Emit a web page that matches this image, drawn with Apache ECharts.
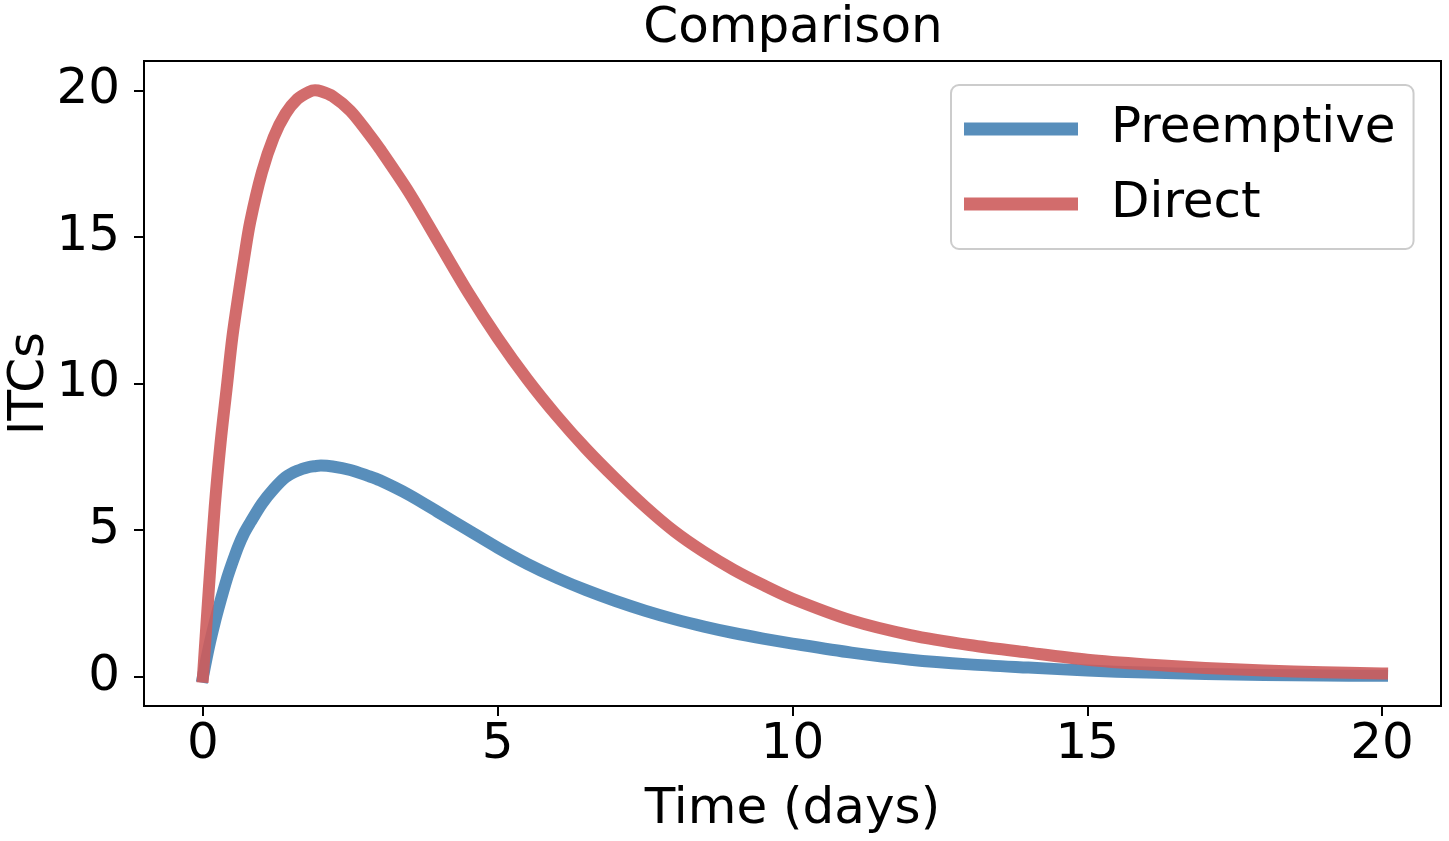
<!DOCTYPE html>
<html>
<head>
<meta charset="utf-8">
<script src="https://cdn.jsdelivr.net/npm/echarts@6/dist/echarts.min.js"></script>
<style>
  html, body { margin: 0; padding: 0; background: #fff; }
  #chart { width: 1449px; height: 841px; }
</style>
</head>
<body>
<div id="chart"></div>
<script>
// Time points (days)
const times = [0, 0.1, 0.2, 0.3, 0.4, 0.5, 0.6, 0.7, 0.8, 1.0, 1.2, 1.4, 1.6, 1.8, 1.9, 2.0, 2.2, 2.5, 2.8, 3.0, 3.5, 4.0, 4.5, 5.0, 5.5, 6.0, 6.5, 7.0, 7.5, 8.0, 8.5, 9.0, 9.5, 10, 11, 12, 13, 14, 15, 16, 17, 18, 19, 20];
// Preemptive ITCs
const preemptive = [0, 1.0, 1.85, 2.6, 3.3, 3.9, 4.45, 4.9, 5.25, 5.9, 6.4, 6.8, 7.02, 7.15, 7.18, 7.2, 7.17, 7.05, 6.85, 6.7, 6.2, 5.6, 5.0, 4.4, 3.85, 3.37, 2.95, 2.58, 2.25, 1.96, 1.71, 1.49, 1.30, 1.13, 0.82, 0.58, 0.42, 0.31, 0.21, 0.14, 0.09, 0.06, 0.04, 0.03];
// Direct ITCs
const direct = [0, 3.0, 5.8, 8.0, 9.8, 11.6, 13.0, 14.3, 15.5, 17.2, 18.4, 19.2, 19.7, 19.95, 20.0, 19.97, 19.8, 19.3, 18.55, 18.0, 16.5, 14.8, 13.1, 11.55, 10.15, 8.9, 7.77, 6.75, 5.8, 4.95, 4.25, 3.65, 3.13, 2.66, 1.92, 1.42, 1.08, 0.82, 0.58, 0.42, 0.30, 0.21, 0.15, 0.11];
// Tick labels
const xTicks = [0, 5, 10, 15, 20];
const yTicks = [0, 5, 10, 15, 20];

const FONT = 'DejaVu Sans';
const chart = echarts.init(document.getElementById('chart'), null, { renderer: 'canvas' });

const toPairs = (ys) => times.map((t, i) => [t, ys[i]]);

chart.setOption({
  backgroundColor: '#fff',
  animation: false,
  title: {
    text: 'Comparison',
    left: 788,
    textAlign: 'center',
    top: -1,
    textStyle: { fontFamily: FONT, fontSize: 50, fontWeight: 'normal', color: '#000' }
  },
  grid: {
    left: 144, top: 61, right: 8, bottom: 135,
    outerBoundsMode: 'none',
    containLabel: false,
    show: true, borderColor: '#000', borderWidth: 2, backgroundColor: '#fff'
  },
  legend: {
    orient: 'vertical',
    left: 951, top: 85,
    padding: [16, 18, 17, 13],
    itemGap: 19,
    itemWidth: 114, itemHeight: 13,
    icon: 'rect',
    backgroundColor: 'rgba(255,255,255,0.8)',
    borderColor: '#cccccc', borderWidth: 2, borderRadius: 8,
    textStyle: { fontFamily: FONT, fontSize: 50, color: '#000', lineHeight: 56, padding: [0, 0, 0, 28] },
    data: ['Preemptive', 'Direct']
  },
  xAxis: {
    type: 'value',
    min: -1, max: 21,
    name: 'Time (days)',
    nameLocation: 'middle',
    nameGap: 79,
    nameMoveOverlap: false,
    nameTextStyle: { fontFamily: FONT, fontSize: 50, color: '#000' },
    axisLine: { show: true, onZero: false, lineStyle: { color: '#000', width: 2 } },
    axisTick: { show: true, customValues: xTicks, length: 10, lineStyle: { color: '#000', width: 2 } },
    axisLabel: { customValues: xTicks, fontFamily: FONT, fontSize: 50, color: '#000', margin: 14 },
    splitLine: { show: false }
  },
  yAxis: {
    type: 'value',
    min: -1, max: 21,
    name: 'ITCs',
    nameLocation: 'middle',
    nameRotate: 90,
    nameGap: 89,
    nameMoveOverlap: false,
    nameTextStyle: { fontFamily: FONT, fontSize: 50, color: '#000' },
    axisLine: { show: true, onZero: false, lineStyle: { color: '#000', width: 2 } },
    axisTick: { show: true, customValues: yTicks, length: 10, lineStyle: { color: '#000', width: 2 } },
    axisLabel: { customValues: yTicks, fontFamily: FONT, fontSize: 50, color: '#000', margin: 24 },
    splitLine: { show: false }
  },
  series: [
    {
      name: 'Preemptive',
      type: 'line',
      data: toPairs(preemptive),
      smooth: 0.3,
      showSymbol: false,
      symbol: 'none',
      color: 'rgba(70,130,180,0.9)',
      lineStyle: { width: 12, color: 'rgba(70,130,180,0.9)', cap: 'square', join: 'round' },
      z: 2
    },
    {
      name: 'Direct',
      type: 'line',
      data: toPairs(direct),
      smooth: 0.3,
      showSymbol: false,
      symbol: 'none',
      color: 'rgba(205,92,92,0.9)',
      lineStyle: { width: 12, color: 'rgba(205,92,92,0.9)', cap: 'square', join: 'round' },
      z: 3
    }
  ]
});
</script>
</body>
</html>
